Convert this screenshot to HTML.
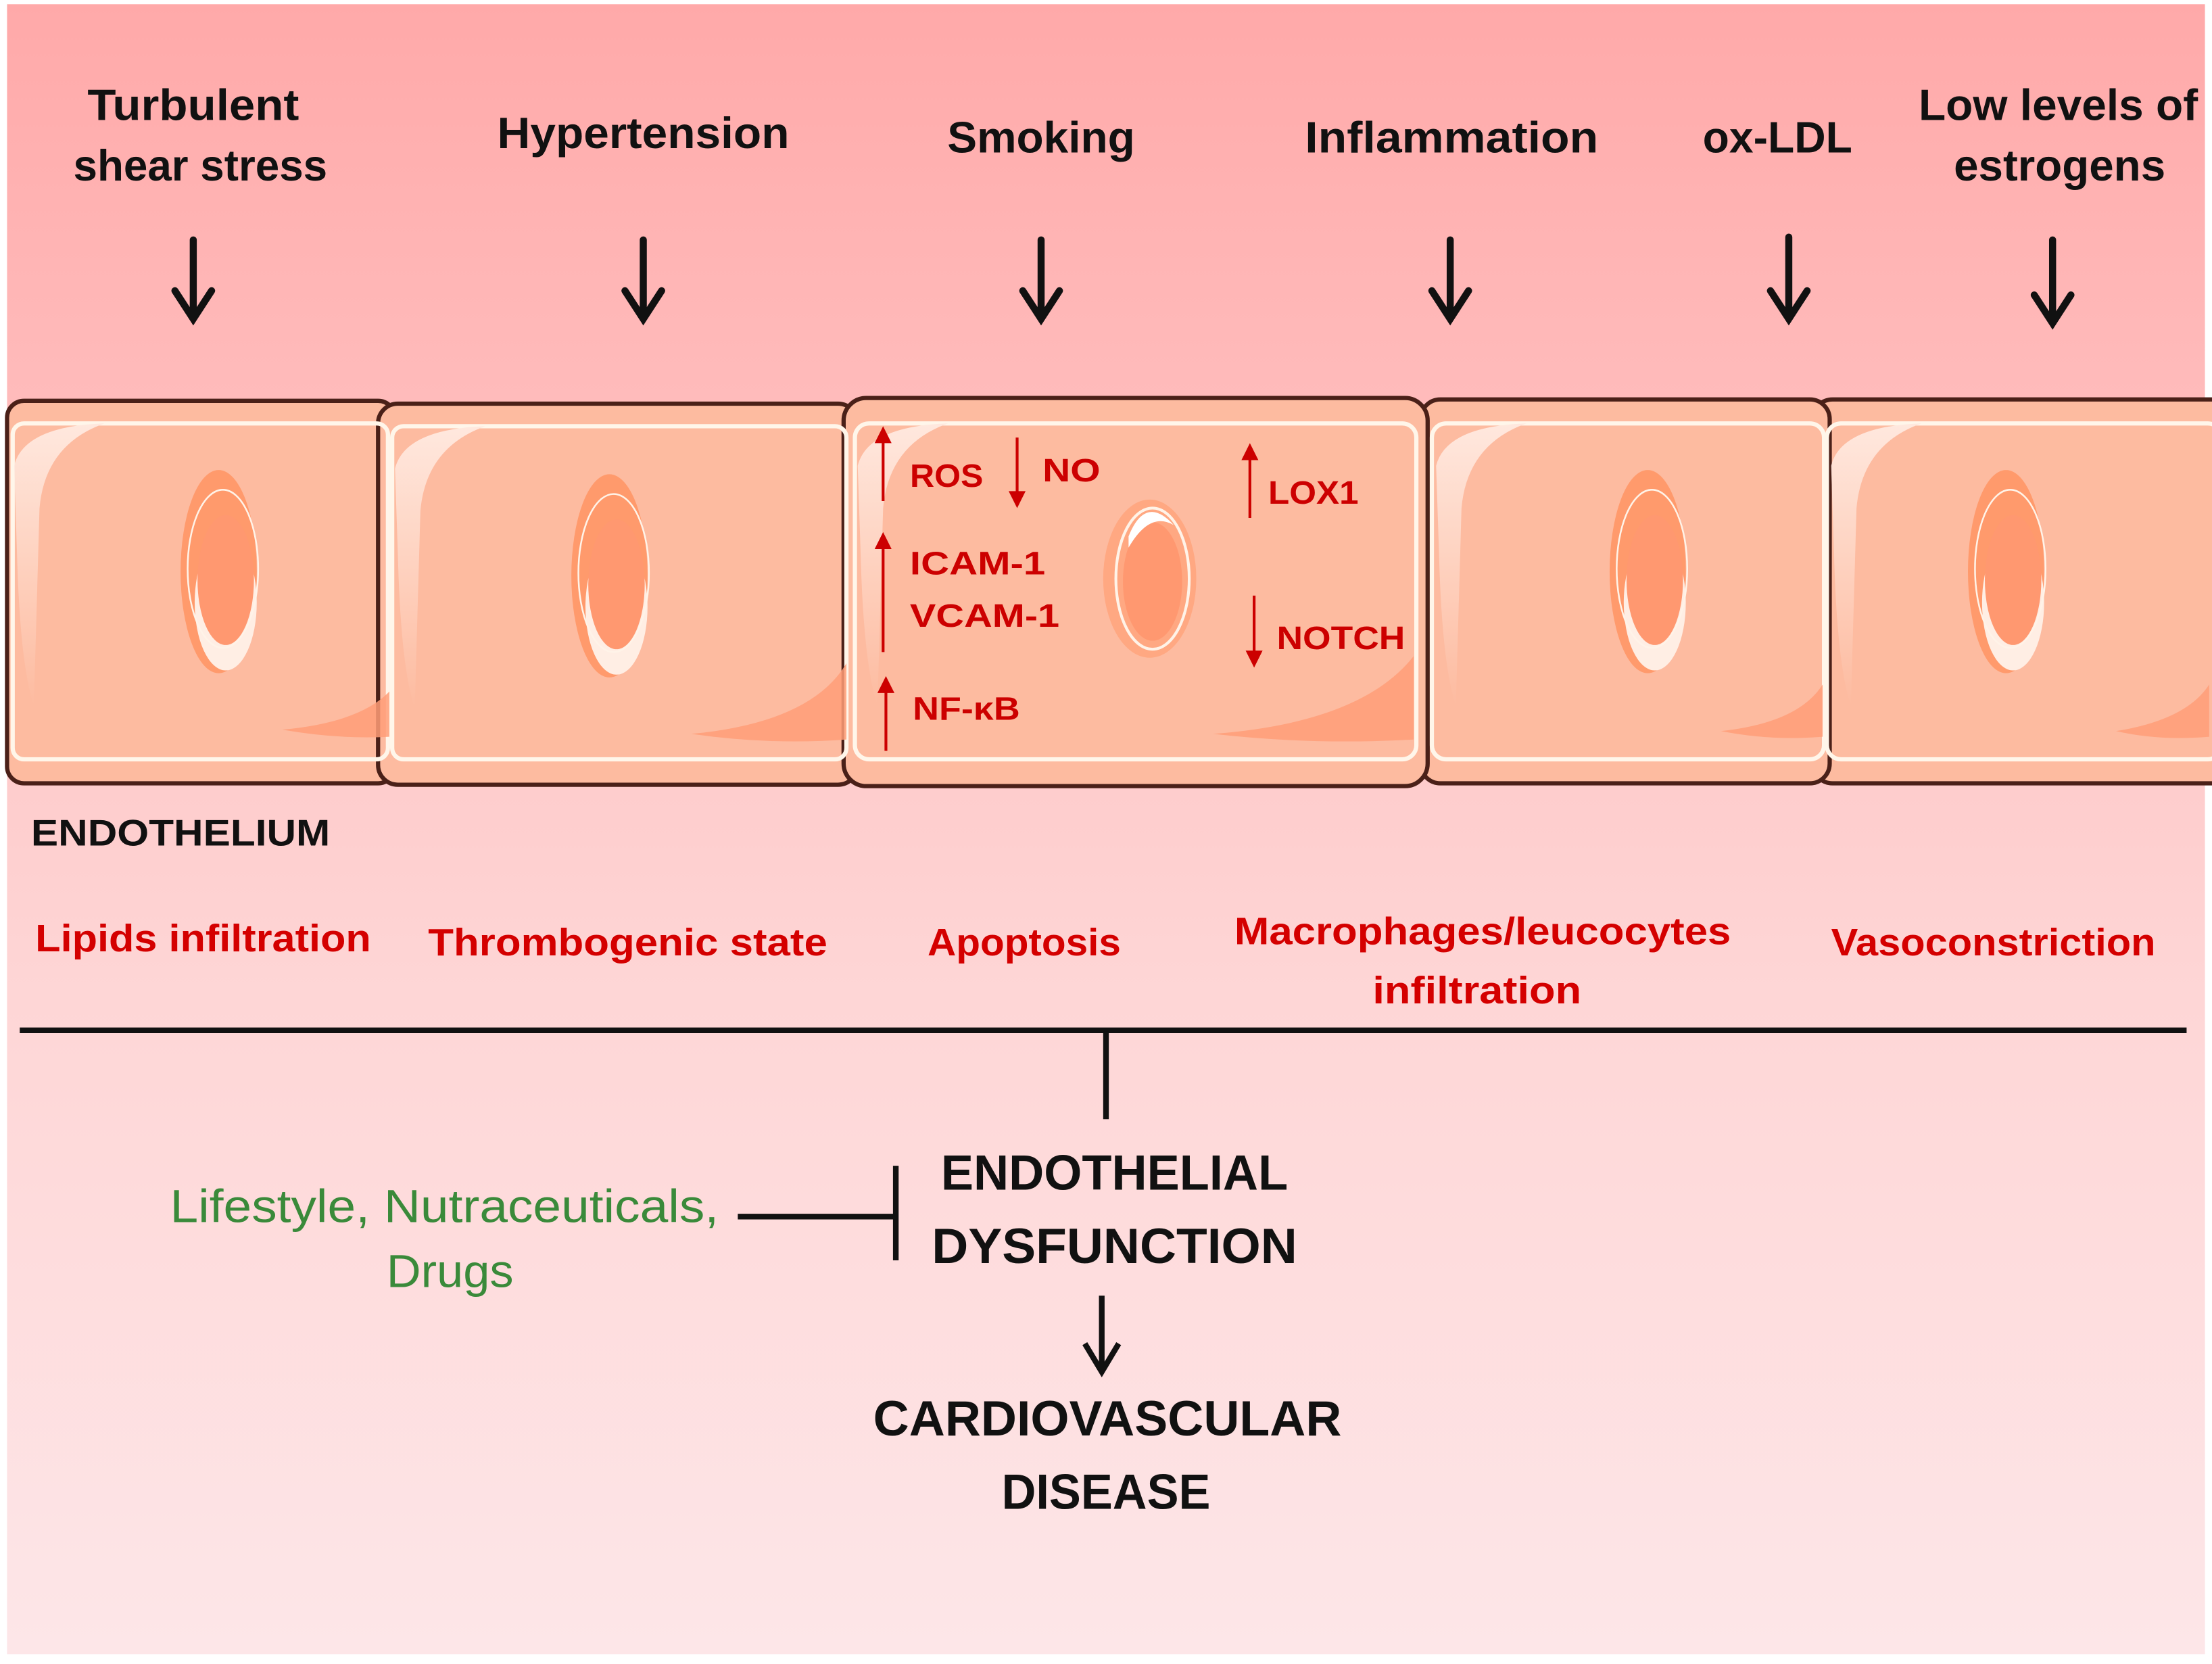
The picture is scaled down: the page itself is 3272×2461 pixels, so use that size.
<!DOCTYPE html>
<html><head><meta charset="utf-8"><style>
html,body{margin:0;padding:0;background:#fff}
svg{display:block}
text{font-family:"Liberation Sans",sans-serif;font-weight:bold}
</style></head><body>
<svg width="3272" height="2461" viewBox="0 0 1568 1179" preserveAspectRatio="none" xmlns="http://www.w3.org/2000/svg">
<defs>
<linearGradient id="bg" x1="0" y1="0" x2="0" y2="1">
<stop offset="0" stop-color="#ffa9a9"/><stop offset="0.25" stop-color="#ffbcbc"/><stop offset="0.6" stop-color="#fed6d6"/><stop offset="1" stop-color="#fde6e8"/>
</linearGradient>
<linearGradient id="gl" x1="0" y1="0" x2="0" y2="1"><stop offset="0" stop-color="#ffe8de"/><stop offset="1" stop-color="#ffe8de" stop-opacity="0"/></linearGradient>
<g id="nucleus">
<ellipse cx="0" cy="0" rx="27" ry="72" fill="#ff9a6c"/>
<ellipse cx="5" cy="22" rx="22" ry="48" fill="#ffeee4"/>
<ellipse cx="3" cy="-2" rx="25" ry="56" fill="none" stroke="#fff3e8" stroke-width="1.2"/>
<path d="M-10 -10 Q0 -45 14 -20 Q2 -32 -10 -5Z" fill="#fff"/>
<ellipse cx="5" cy="6" rx="20" ry="46" fill="#ff9870"/>
</g>
<g id="gloss">
<path d="M8 60 Q15 32 72 30 Q30 45 26 90 L22 230 Q12 200 10 120Z" fill="url(#gl)"/>
</g>
</defs>
<rect x="0" y="0" width="1568" height="1179" fill="#fff"/>
<rect x="5" y="3" width="1558" height="1169" fill="url(#bg)"/>

<g stroke="#4a2018" stroke-width="3" fill="#fdbba0">
<rect x="1285" y="283" width="300" height="272" rx="14"/>
<rect x="1007" y="283" width="290" height="272" rx="14"/>
<rect x="5" y="284" width="275" height="271" rx="12"/>
<rect x="268" y="286" width="340" height="270" rx="14"/>
<rect x="598" y="282" width="414" height="275" rx="16"/>
</g>
<g fill="none" stroke="#fff6ea" stroke-width="3">
<rect x="9" y="300" width="266" height="238" rx="8"/>
<rect x="278" y="302" width="322" height="236" rx="8"/>
<rect x="606" y="300" width="398" height="238" rx="10"/>
<rect x="1015" y="300" width="278" height="238" rx="10"/>
<rect x="1295" y="300" width="280" height="238" rx="10"/>
</g>
<g fill="#ff9d78" opacity="0.85">
<path d="M200 517 Q255 512 276 490 L276 522 Q240 524 200 517Z"/>
<path d="M490 520 Q575 512 600 470 L600 524 Q545 528 490 520Z"/>
<path d="M860 520 Q965 512 1002 465 L1002 524 Q930 528 860 520Z"/>
<path d="M1220 518 Q1275 512 1292 485 L1292 522 Q1255 525 1220 518Z"/>
<path d="M1500 518 Q1550 510 1566 485 L1566 522 Q1530 525 1500 518Z"/>
</g>
<use href="#gloss" x="2" y="270"/>
<use href="#gloss" x="272" y="272"/>
<use href="#gloss" x="600" y="270"/>
<use href="#gloss" x="1010" y="270"/>
<use href="#gloss" x="1290" y="270"/>
<use href="#nucleus" x="155" y="405"/>
<use href="#nucleus" x="432" y="408"/>
<use href="#nucleus" x="1168" y="405"/>
<use href="#nucleus" x="1422" y="405"/>
<g>
<ellipse cx="815" cy="410" rx="33" ry="56" fill="#ffa882"/>
<ellipse cx="817" cy="410" rx="26" ry="50" fill="none" stroke="#fff3e8" stroke-width="2"/>
<ellipse cx="817" cy="412" rx="21" ry="42" fill="#ff9870"/>
<path d="M800 380 Q812 350 832 372 Q815 362 800 388Z" fill="#fff"/>
</g>

<g font-size="31" fill="#111" text-anchor="middle">
<text x="137" y="85" textLength="150" lengthAdjust="spacingAndGlyphs">Turbulent</text>
<text x="142" y="128" textLength="180" lengthAdjust="spacingAndGlyphs">shear stress</text>
<text x="456" y="105" textLength="207" lengthAdjust="spacingAndGlyphs">Hypertension</text>
<text x="738" y="108" textLength="133" lengthAdjust="spacingAndGlyphs">Smoking</text>
<text x="1029" y="108" textLength="208" lengthAdjust="spacingAndGlyphs">Inflammation</text>
<text x="1260" y="108" textLength="106" lengthAdjust="spacingAndGlyphs">ox-LDL</text>
<text x="1459" y="85" textLength="198" lengthAdjust="spacingAndGlyphs">Low levels of</text>
<text x="1460" y="128" textLength="150" lengthAdjust="spacingAndGlyphs">estrogens</text>
</g>
<g stroke="#111" stroke-width="5" fill="none" stroke-linecap="round">
<path d="M137 170V225M124 206L137 226L150 206"/>
<path d="M456 170V225M443 206L456 226L469 206"/>
<path d="M738 170V225M725 206L738 226L751 206"/>
<path d="M1028 170V225M1015 206L1028 226L1041 206"/>
<path d="M1268 168V225M1255 206L1268 226L1281 206"/>
<path d="M1455 170V228M1442 209L1455 229L1468 209"/>
</g>

<g font-size="23" fill="#cc0000">
<text x="645" y="345" textLength="52" lengthAdjust="spacingAndGlyphs">ROS</text>
<text x="739" y="341" textLength="41" lengthAdjust="spacingAndGlyphs">NO</text>
<text x="899" y="357" textLength="64" lengthAdjust="spacingAndGlyphs">LOX1</text>
<text x="645" y="407" textLength="96" lengthAdjust="spacingAndGlyphs">ICAM-1</text>
<text x="645" y="444" textLength="106" lengthAdjust="spacingAndGlyphs">VCAM-1</text>
<text x="905" y="460" textLength="91" lengthAdjust="spacingAndGlyphs">NOTCH</text>
<text x="647" y="510" textLength="76" lengthAdjust="spacingAndGlyphs">NF-κB</text>
</g>
<g stroke="#cc0000" stroke-width="2" fill="none"><path d="M626 355V310M721 310V352M626 462V385M628 532V487M886 367V322M889 422V465"/></g>
<g fill="#cc0000">
<path d="M620 314L626 302L632 314Z"/>
<path d="M715 348L721 360L727 348Z"/>
<path d="M620 389L626 377L632 389Z"/>
<path d="M622 491L628 479L634 491Z"/>
<path d="M880 326L886 314L892 326Z"/>
<path d="M883 461L889 473L895 461Z"/>
</g>

<text x="22" y="599" font-size="26" fill="#111" textLength="212" lengthAdjust="spacingAndGlyphs">ENDOTHELIUM</text>
<g font-size="27" fill="#d40000" text-anchor="middle">
<text x="144" y="674" textLength="238" lengthAdjust="spacingAndGlyphs">Lipids  infiltration</text>
<text x="445" y="677" textLength="283" lengthAdjust="spacingAndGlyphs">Thrombogenic  state</text>
<text x="726" y="677" textLength="137" lengthAdjust="spacingAndGlyphs">Apoptosis</text>
<text x="1051" y="669" textLength="352" lengthAdjust="spacingAndGlyphs">Macrophages/leucocytes</text>
<text x="1047" y="711" textLength="148" lengthAdjust="spacingAndGlyphs">infiltration</text>
<text x="1413" y="677" textLength="230" lengthAdjust="spacingAndGlyphs">Vasoconstriction</text>
</g>

<g stroke="#111" stroke-width="4" fill="none">
<path d="M14 730H1550"/>
<path d="M784 731V793"/>
<path d="M523 862H635M635 826V893"/>
<path d="M781 918V970M769 952L781 972L793 952"/>
</g>
<g font-size="35" fill="#111" text-anchor="middle">
<text x="790" y="843" textLength="246" lengthAdjust="spacingAndGlyphs">ENDOTHELIAL</text>
<text x="790" y="895" textLength="259" lengthAdjust="spacingAndGlyphs">DYSFUNCTION</text>
<text x="785" y="1017" textLength="332" lengthAdjust="spacingAndGlyphs">CARDIOVASCULAR</text>
<text x="784" y="1069" textLength="148" lengthAdjust="spacingAndGlyphs">DISEASE</text>
</g>
<g font-size="33" fill="#3a8a3a" text-anchor="middle">
<text x="315" y="866" textLength="389" lengthAdjust="spacingAndGlyphs" style="font-weight:normal">Lifestyle, Nutraceuticals,</text>
<text x="319" y="912" textLength="90" lengthAdjust="spacingAndGlyphs" style="font-weight:normal">Drugs</text>
</g>
</svg>
</body></html>
